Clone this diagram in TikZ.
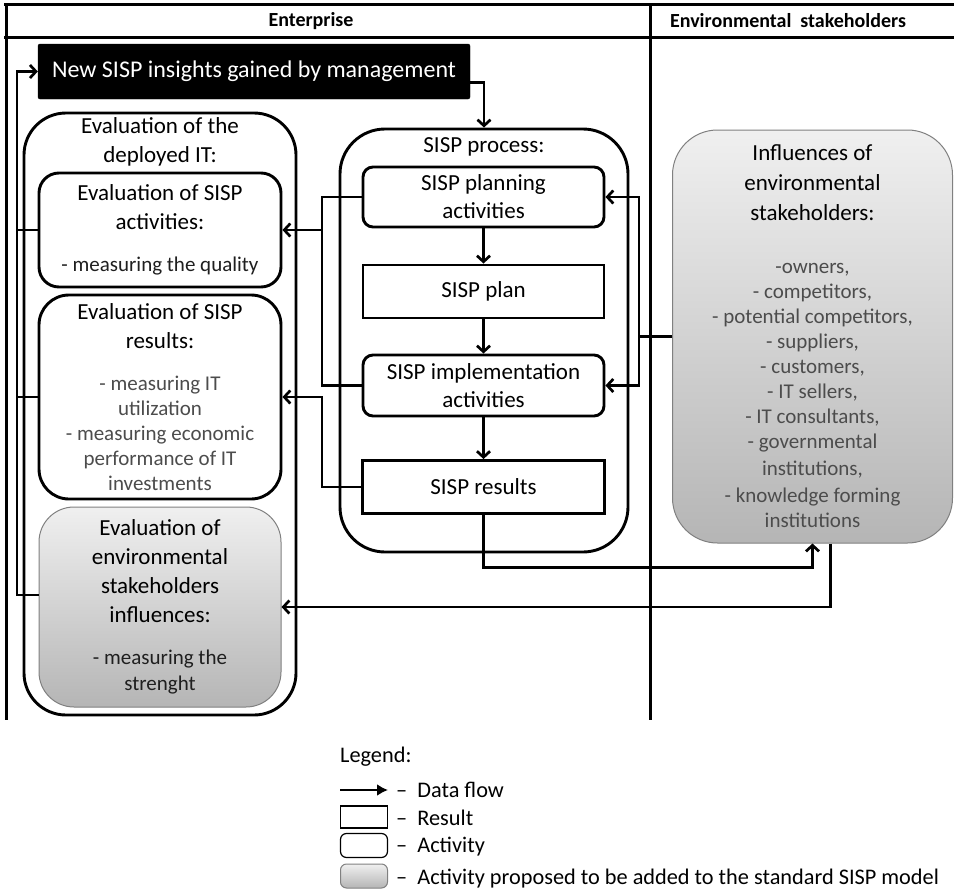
\documentclass[tikz,border=0pt]{standalone}
\usepackage{fontspec}
\setmainfont{Carlito}
\usetikzlibrary{arrows.meta}
\newcommand{\boxtitlefont}{\fontsize{23}{29}\selectfont}
\newcommand{\bulletfont}{\fontsize{21}{25}\selectfont}
\newcommand{\legendfont}{\fontsize{22.3}{26}\selectfont}
\definecolor{bulletgray}{gray}{0.3}
\definecolor{bulletdark}{gray}{0.12}
\newcommand{\blt}[1]{{\color{bulletgray}#1}}
\newcommand{\bltd}[1]{{\color{bulletdark}#1}}
\newcommand{\ttl}[1]{{\boxtitlefont #1}}
\tikzset{
  frameline/.style={line width=3pt},
  conn/.style={line width=2.7pt},
  flow/.style={conn, -{Straight Barb[length=6pt,width=13pt]}},
  actbox/.style={draw, line width=2.9pt, rounded corners=10pt, align=center, inner sep=2pt, fill=white},
  resbox/.style={draw, line width=2.9pt, align=center, inner sep=2pt, fill=white},
  addbox/.style={draw=black!50, line width=1pt, top color=black!6, bottom color=black!29, align=center, inner sep=2pt},
}
\begin{document}
\begin{tikzpicture}[x=1pt,y=-1pt]
  \useasboundingbox (0,0) rectangle (954,894);
  \draw[frameline] (4,4) -- (954,4);
  \draw[frameline] (4,37) -- (954,37);
  \draw[frameline] (6,4) -- (6,720);
  \draw[frameline] (650,4) -- (650,720);
  \node[font=\bfseries\fontsize{20}{24}\selectfont] (hEnt) at (311,21) {Enterprise};
  \node[font=\bfseries\fontsize{20}{24}\selectfont] (hEnv) at (788,21) {Environmental\ \ stakeholders};

  \node[draw, fill=black, text=white, rounded corners=2pt, minimum width=432pt, minimum height=55pt,
        font=\fontsize{24}{29}\selectfont] (insights) at (254,71.5) {New SISP insights gained by management};

  \node[actbox, fill=none, rounded corners=42pt, minimum width=272pt, minimum height=602pt] (evalIT) at (160,414) {};
  \node[font=\boxtitlefont, align=center] (evalITtitle) at (160,142) {Evaluation of the\\deployed IT:};
  \node[actbox, rounded corners=20pt, minimum width=242pt, minimum height=114pt, font=\bulletfont] (evalAct) at (160,230)
    {\ttl{Evaluation of SISP}\\[4pt]\ttl{activities:}\\[17pt]\bltd{- measuring the quality}};
  \node[actbox, rounded corners=30pt, minimum width=242pt, minimum height=204pt, font=\bulletfont] (evalRes) at (160,397)
    {\ttl{Evaluation of SISP}\\[4pt]\ttl{results:}\\[17pt]\blt{- measuring IT}\\\blt{utilization}\\
     \blt{- measuring economic}\\\blt{performance of IT}\\\blt{investments}};
  \node[addbox, rounded corners=35pt, minimum width=242pt, minimum height=200pt, font=\bulletfont] (evalEnv) at (160,607)
    {\ttl{Evaluation of}\\[4pt]\ttl{environmental}\\[4pt]\ttl{stakeholders}\\[4pt]\ttl{influences:}\\[17pt]
     \bltd{- measuring the}\\[1pt]\bltd{strenght}};

  \node[actbox, fill=none, rounded corners=45pt, minimum width=288pt, minimum height=423pt] (process) at (484,340.5) {};
  \node[font=\boxtitlefont] (processtitle) at (484,147) {SISP process:};
  \node[actbox, minimum width=241pt, minimum height=60pt, font=\boxtitlefont] (planAct) at (483.5,197) {SISP planning\\[-1pt]activities};
  \node[resbox, minimum width=241pt, minimum height=53pt, font=\boxtitlefont] (plan) at (483.5,291.5) {SISP plan};
  \node[actbox, minimum width=241pt, minimum height=61pt, font=\boxtitlefont] (implAct) at (483.5,385.5) {SISP implementation\\[-1pt]activities};
  \node[resbox, minimum width=242pt, minimum height=53pt, font=\boxtitlefont] (results) at (483.5,487) {SISP results};

  \node[addbox, rounded corners=45pt, minimum width=280pt, minimum height=413pt, font=\bulletfont] (influences) at (812.5,336.5)
    {\ttl{Influences of}\\[5pt]\ttl{environmental}\\[5pt]\ttl{stakeholders:}\\[28pt]
     \blt{-owners,}\\\blt{- competitors,}\\\blt{- potential competitors,}\\\blt{- suppliers,}\\\blt{- customers,}\\
     \blt{- IT sellers,}\\\blt{- IT consultants,}\\\blt{- governmental}\\[2pt]\blt{institutions,}\\[2pt]
     \blt{- knowledge forming}\\\blt{institutions}};

  \coordinate (fb) at (17,595);
  \coordinate (lx) at (322,0);
  \coordinate (rx) at (639,0);
  \draw[flow] ([yshift=-11pt]insights.east) -| (process.north);
  \draw[flow] ([yshift=12pt]evalEnv.west) -- (fb) |- (insights.west);
  \foreach \b in {evalAct,evalRes} \draw[conn] (\b.west) -- (\b.west -| fb);
  \draw[conn] (planAct.west) -- (planAct.west -| lx) -- (implAct.west -| lx) -- (implAct.west);
  \draw[flow] (evalAct.east -| lx) -- (evalAct.east);
  \draw[flow] (results.west) -- (results.west -| lx) |- (evalRes.east);
  \foreach \a/\b in {planAct/plan,plan/implAct,implAct/results} \draw[flow] (\a) -- (\b);
  \draw[flow] (results.south) |- ([yshift=-24pt]influences.south) -- (influences.south);
  \draw[flow] ([xshift=18pt]influences.south) |- (evalEnv.east);
  \draw[conn] (influences.west) -- (influences.west -| rx);
  \foreach \b in {planAct,implAct} \draw[flow] (influences.west -| rx) |- (\b.east);

  \node[anchor=west, font=\legendfont, inner sep=0pt] (legTitle) at (340,757) {Legend:};
  \coordinate (la) at (340,790);
  \coordinate (lb) at (388,790);
  \draw[line width=2.8pt, -{Latex[length=11pt,width=12pt]}] (la) -- (lb);
  \node[resbox, line width=1.2pt, minimum width=47pt, minimum height=22pt] (legRes) at (364,817) {};
  \node[actbox, line width=1.2pt, rounded corners=6pt, minimum width=47pt, minimum height=24pt] (legAct) at (364,845.5) {};
  \node[addbox, rounded corners=6pt, minimum width=47pt, minimum height=24pt] (legAdd) at (364,876) {};
  \foreach \y/\t in {790/Data flow,818/Result,847/Activity,879/Activity proposed to be added to the standard SISP model}
    \node[anchor=west, font=\legendfont, inner sep=0pt] at (396,\y) {–\ \ \t};
\end{tikzpicture}
\end{document}
